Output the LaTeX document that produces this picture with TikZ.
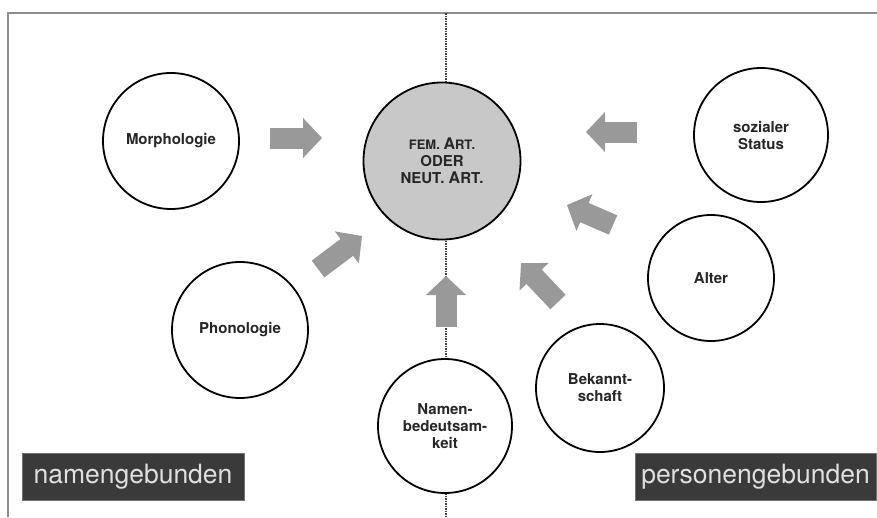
\documentclass[tikz,border=0pt]{standalone}
\usepackage{fontspec}
\setmainfont{TeX Gyre Heros}
\usetikzlibrary{arrows.meta,positioning,calc}
\definecolor{pfeilgrau}{HTML}{999999}
\definecolor{kerngrau}{HTML}{C8C8C8}
\definecolor{boxgrau}{HTML}{3A3A3A}
\definecolor{rahmengrau}{HTML}{8E8E8E}
\def\grossA{{\fontsize{16}{17.5}\selectfont A}}

\begin{document}
\begin{tikzpicture}[x=1pt,y=-1pt,
    kreis/.style={circle,draw=black,line width=1.8pt,fill=white,inner sep=0pt,minimum size=#1,
      align=center,text=black!85,font=\fontsize{15}{17}\selectfont\bfseries},
    kreis/.default=134pt,
    pfeil/.style={draw=pfeilgrau,line width=21pt,-{Triangle[length=19pt,width=39pt]}},
    etikett/.style={fill=boxgrau,draw=black!55,line width=0.8pt,text=white!88!black,inner sep=0pt,
      minimum height=47pt,font=\fontsize{26.5}{30}\selectfont}]
%
   \useasboundingbox (0,0) rectangle (877,517);
   \draw[rahmengrau,line width=1.5pt] (8,517) -- (8,13) -- (877,13);
   \draw[black!75,line width=1.6pt,dash pattern=on 1.6pt off 0.9pt] (446,13) -- (446,517);
%
   \node[kreis=157pt,fill=kerngrau] (art) at (442,161)
      {\fontsize{13}{17.5}\selectfont FEM. \grossA RT.\\ODER\\NEUT. \grossA RT.};
   \node[kreis=136pt]  (morph)   at (171,141) {Morphologie};
   \node[kreis=136pt]  (phon)    at (240,330) {Phonologie};
   \node[kreis]        (namen)   at (445,426) {Namen-\\bedeutsam-\\keit};
   \node[kreis=128pt]  (bekannt) at (600,388) {Bekannt-\\schaft};
   \node[kreis=126pt]  (alter)   at (711,278) {Alter};
   \node[kreis]        (status)  at (761,135) {sozialer\\Status};
%
   \node[etikett,minimum width=222pt] (namengeb)  at (133,476.5) {namengebunden};
   \node[etikett,minimum width=241pt] (persongeb) at (755.5,476.5) {personengebunden};
%
   \coordinate (m1) at (270,138);  \coordinate (m2) at (322,138);
   \coordinate (p1) at (318,269);  \coordinate (p2) at (362,236);
   \coordinate (n1) at (446,327);  \coordinate (n2) at (446,276);
   \coordinate (b1) at (558,302);  \coordinate (b2) at (521,263);
   \coordinate (a1) at (613,225);  \coordinate (a2) at (567,205);
   \coordinate (s1) at (637,132);  \coordinate (s2) at (586,132);
   \draw[pfeil] (m1) -- (m2);
   \draw[pfeil] (p1) -- (p2);
   \draw[pfeil] (n1) -- (n2);
   \draw[pfeil] (b1) -- (b2);
   \draw[pfeil] (a1) -- (a2);
   \draw[pfeil] (s1) -- (s2);
\end{tikzpicture}
\end{document}
